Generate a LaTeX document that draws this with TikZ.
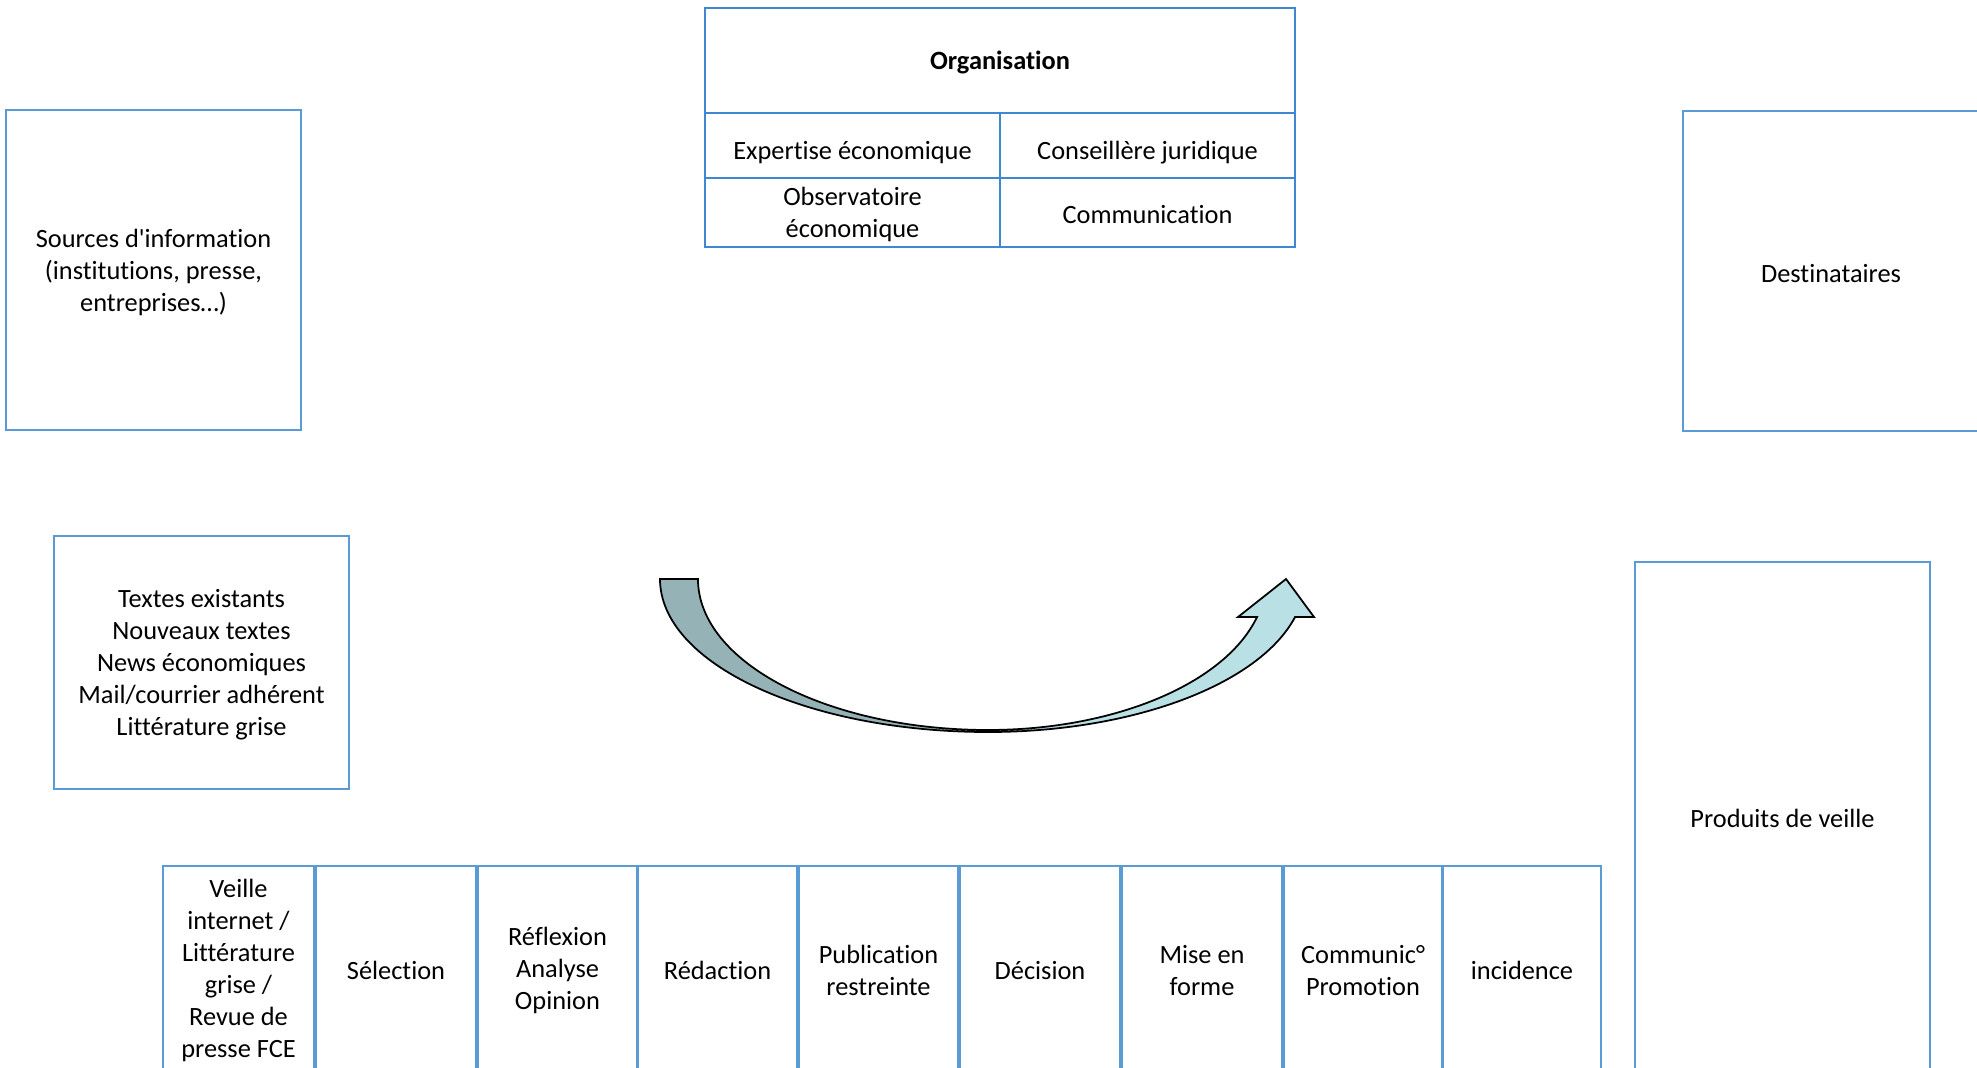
\documentclass[tikz,border=0pt]{standalone}
\usepackage{fontspec}
\setmainfont{Carlito}[Ligatures={TeXOff,NoCommon,NoContextual},Contextuals=NoAlternate]
\definecolor{boxblue}{HTML}{5B9BD5}
\definecolor{tabblue}{HTML}{3D88D0}
\definecolor{arrowdark}{RGB}{149,179,182}
\definecolor{arrowlight}{RGB}{185,224,228}
\pgfdeclarehorizontalshading{arrowshade}{100bp}{color(0bp)=(arrowdark); color(44bp)=(arrowdark); color(56bp)=(arrowlight); color(100bp)=(arrowlight)}
\tikzset{
  box/.style={draw=boxblue, line width=0.55pt, inner sep=0pt},
  cell/.style={box, draw=tabblue},
  lab/.style={align=center, inner sep=0pt, font=\fontsize{7.5}{9.1}\selectfont, yshift=-0.6pt},
  lablow/.style={lab, yshift=-1.5pt},
}
\begin{document}
\begin{tikzpicture}[x=0.01cm, y=-0.01cm]
\useasboundingbox (0,0) rectangle (1977,1067);
\clip (0,0) rectangle (1977,1067);
% Organisation table
\node[cell, minimum width=5.9cm, minimum height=1.05cm,
  label={[lab, font=\fontsize{7.5}{9.1}\selectfont\bfseries]center:Organisation}] (org) at (1000,60.5) {};
\node[cell, minimum width=2.95cm, minimum height=0.65cm,
  label={[lablow]center:Expertise économique}] (expe) at (852.5,145.5) {};
\node[cell, minimum width=2.95cm, minimum height=0.65cm,
  label={[lablow]center:Conseillère juridique}] (cons) at (1147.5,145.5) {};
\node[cell, minimum width=2.95cm, minimum height=0.69cm,
  label={[lab]center:{Observatoire\\économique}}] (obse) at (852.5,212.5) {};
\node[cell, minimum width=2.95cm, minimum height=0.69cm,
  label={[lab]center:Communication}] (comm) at (1147.5,212.5) {};
% side boxes
\node[box, minimum width=2.95cm, minimum height=3.2cm,
  label={[lab]center:{Sources d'information\\(institutions, presse,\\entreprises…)}}] (src) at (153.5,270) {};
\node[box, minimum width=2.96cm, minimum height=3.2cm,
  label={[lab]center:Destinataires}] (dest) at (1831,271) {};
\node[box, minimum width=2.95cm, minimum height=2.53cm,
  label={[lab]center:{Textes existants\\Nouveaux textes\\News économiques\\Mail/courrier adhérent\\Littérature grise}}] (txt) at (201.5,662.5) {};
\node[box, minimum width=2.95cm, minimum height=5.08cm,
  label={[lab]center:Produits de veille}] (prod) at (1782.5,816) {};
% bottom row
\node[box, minimum width=1.51cm, minimum height=2.04cm,
  label={[lab]center:{Veille\\internet /\\Littérature\\grise /\\Revue de\\presse FCE}}] (b1) at (238.5,968) {};
\node[box, minimum width=1.60cm, minimum height=2.04cm,
  label={[lab]center:Sélection}] (b2) at (396,968) {};
\node[box, minimum width=1.59cm, minimum height=2.04cm,
  label={[lab]center:{Réflexion\\Analyse\\Opinion}}] (b3) at (557.5,968) {};
\node[box, minimum width=1.59cm, minimum height=2.04cm,
  label={[lab]center:Rédaction}] (b4) at (717.5,968) {};
\node[box, minimum width=1.59cm, minimum height=2.04cm,
  label={[lab]center:{Publication\\restreinte}}] (b5) at (878.5,968) {};
\node[box, minimum width=1.60cm, minimum height=2.04cm,
  label={[lab]center:Décision}] (b6) at (1040,968) {};
\node[box, minimum width=1.60cm, minimum height=2.04cm,
  label={[lab]center:{Mise en\\forme}}] (b7) at (1202,968) {};
\node[box, minimum width=1.58cm, minimum height=2.04cm,
  label={[lab]center:{Communic°\\Promotion}}] (b8) at (1363,968) {};
\node[box, minimum width=1.58cm, minimum height=2.04cm,
  label={[lab]center:incidence}] (b9) at (1522,968) {};
% curved arrow
\path[draw=black, line width=0.5pt, shading=arrowshade]
  (660,579) arc[start angle=180, end angle=90, x radius=328, y radius=153]
  arc[start angle=90, end angle=14.38, x radius=317, y radius=153]
  -- (1314,617) -- (1286,579) -- (1238,617) -- (1257,617)
  arc[start angle=14.58, end angle=90, x radius=278, y radius=151]
  arc[start angle=90, end angle=180, x radius=290, y radius=151]
  -- cycle;
\end{tikzpicture}
\end{document}
